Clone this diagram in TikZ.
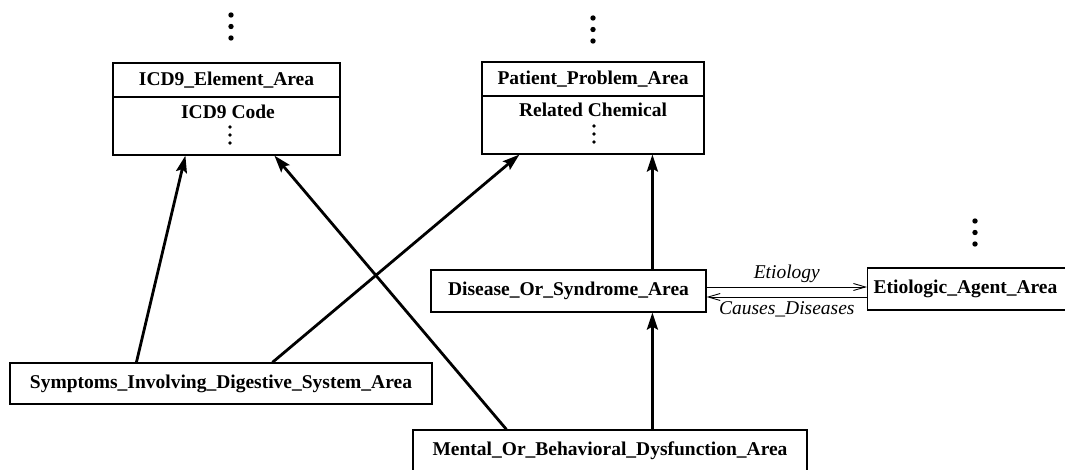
\documentclass[tikz,border=0pt]{standalone}
\usepackage{fontspec}
\setmainfont{Liberation Serif}
\usetikzlibrary{arrows.meta,calc}

\begin{document}
\begin{tikzpicture}[x=1pt,y=-1pt,
  font=\fontsize{19.5}{22}\selectfont\bfseries,
  box/.style={draw, line width=1.2pt, inner sep=0pt},
  lift/.style={line width=2.8pt, -{Stealth[length=17pt,width=11pt,inset=3pt]}},
  rel/.style={line width=0.9pt, -{Straight Barb[length=12pt,width=7pt]}},
  lbl/.style={font=\fontsize{19.5}{22}\selectfont\itshape},
  bigdot/.style={circle, fill, inner sep=0pt, minimum size=5.4pt},
  smalldot/.style={circle, fill, inner sep=0pt, minimum size=3.6pt}]
\useasboundingbox (0,0) rectangle (1065,470);
\clip (0,0) rectangle (1065,470);

% ICD9 element area: title row and attribute row
\node[box, minimum width=227pt, minimum height=34pt] (icdH) at (226.5,80) {ICD9\_Element\_Area};
\node[box, minimum width=227pt, minimum height=58pt] (icdB) at (226.5,126) {};
\node (icdCode) at (228,112) {ICD9 Code};
\node[smalldot] (icdd1) at (230,127) {};
\node[smalldot] (icdd2) at (230,135) {};
\node[smalldot] (icdd3) at (230,143) {};
\node[bigdot] (icdt1) at (231,15) {};
\node[bigdot] (icdt2) at (231,26.5) {};
\node[bigdot] (icdt3) at (231,38) {};

% Patient problem area
\node[box, minimum width=222pt, minimum height=34pt] (patH) at (593,79) {Patient\_Problem\_Area};
\node[box, minimum width=222pt, minimum height=58pt] (patB) at (593,125) {};
\node (patChem) at (593,110) {Related Chemical};
\node[smalldot] (patd1) at (594,126) {};
\node[smalldot] (patd2) at (594,134) {};
\node[smalldot] (patd3) at (594,142) {};
\node[bigdot] (patt1) at (593,18) {};
\node[bigdot] (patt2) at (593,29.5) {};
\node[bigdot] (patt3) at (593,41) {};

% Disease and etiologic agent
\node[box, minimum width=275pt, minimum height=42pt] (dis) at (568.5,291) {Disease\_Or\_Syndrome\_Area};
\node[box, anchor=west, minimum height=42pt, inner xsep=6pt, text width=215pt, align=left] (eti) at (867,289) {Etiologic\_Agent\_Area};
\node[bigdot] (etit1) at (975,221) {};
\node[bigdot] (etit2) at (975,232.5) {};
\node[bigdot] (etit3) at (975,244) {};

% Lower areas
\node[box, minimum width=422pt, minimum height=41pt] (sym) at (221,383.5) {Symptoms\_Involving\_Digestive\_System\_Area};
\node[box, minimum width=394pt, minimum height=41pt] (men) at (610,450.5) {Mental\_Or\_Behavioral\_Dysfunction\_Area};

% Generalisation links
\draw[lift] ($(sym.north west)+(127,0)$) -- ($(icdB.south west)+(73,0)$);
\draw[lift] ($(sym.north west)+(263,0)$) -- ($(patB.south west)+(38,0)$);
\draw[lift] ($(men.north west)+(94,0)$) -- ($(icdB.south west)+(162,0)$);
\draw[lift] ($(dis.north west)+(222,0)$) -- ($(patB.south west)+(171,0)$);
\draw[lift] ($(men.north west)+(240,0)$) -- ($(dis.south west)+(222,0)$);

% Relationships
\draw[rel] ($(dis.east)+(0,-4)$) -- node[lbl, above=1pt] (etiol) {Etiology} ($(eti.west)+(0,-2)$);
\draw[rel] ($(eti.west)+(0,8)$) -- node[lbl, below=1pt] (causes) {Causes\_Diseases} ($(dis.east)+(0,6)$);
\end{tikzpicture}
\end{document}
